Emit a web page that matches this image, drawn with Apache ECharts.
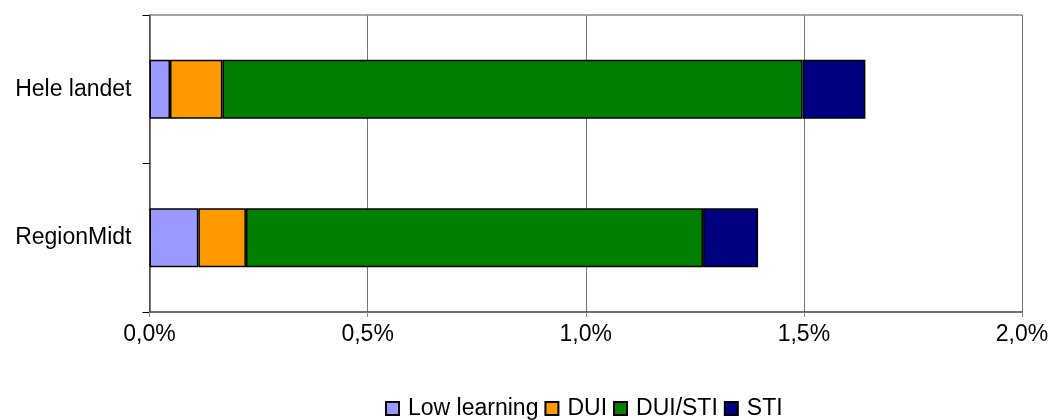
<!DOCTYPE html>
<html>
<head>
<meta charset="utf-8">
<script src="https://cdn.jsdelivr.net/npm/echarts@6/dist/echarts.min.js"></script>
<style>
  html, body { margin: 0; padding: 0; background: #fff; }
  #chart { width: 1052px; height: 420px; }
</style>
</head>
<body>
<div id="chart"></div>
<script>
// data (percent)
const categories = ["Hele landet", "RegionMidt"];
const lowLearning = [0.047, 0.112];
const dui = [0.120, 0.109];
const duiSti = [1.330, 1.048];
const sti = [0.144, 0.126];
const xTicks = [0, 0.5, 1.0, 1.5, 2.0];

const font = "Liberation Sans, Arial, sans-serif";

const mkSeries = (name, data, color) => ({
  name: name,
  type: "bar",
  stack: "total",
  data: data,
  barWidth: 59,
  itemStyle: { color: color, borderColor: "#000", borderWidth: 1.5 },
});

const myChart = echarts.init(document.getElementById("chart"));
myChart.setOption({
  animation: false,
  textStyle: { fontFamily: font },
  grid: { left: 149.5, right: 30, top: 15, bottom: 108 },
  legend: {
    left: 380,
    top: 392,
    itemWidth: 13,
    itemHeight: 13,
    itemGap: 6,
    icon: "rect",
    textStyle: { fontSize: 23, color: "#000", fontFamily: font, padding: [0, 0, 0, 4] },
    data: ["Low learning", "DUI", "DUI/STI", "STI"],
  },
  xAxis: [
    {
      type: "value",
      min: xTicks[0],
      max: xTicks[xTicks.length - 1],
      interval: 0.5,
      axisLine: { show: true, lineStyle: { color: "#444", width: 1.5 } },
      axisTick: { show: true, length: 5, lineStyle: { color: "#888" } },
      axisLabel: {
        fontSize: 23,
        color: "#000",
        margin: 11,
        fontFamily: font,
        formatter: (v) => v.toFixed(1).replace(".", ",") + "%",
      },
      splitLine: { show: true, lineStyle: { color: "#777", width: 1 } },
    },
    {
      type: "value",
      position: "top",
      min: xTicks[0],
      max: xTicks[xTicks.length - 1],
      axisLine: { show: true, lineStyle: { color: "#888", width: 1.5 } },
      axisTick: { show: false },
      axisLabel: { show: false },
      splitLine: { show: false },
    },
  ],
  yAxis: {
    type: "category",
    data: categories,
    inverse: true,
    axisLine: { show: true, onZero: false, lineStyle: { color: "#444", width: 1.5 } },
    axisTick: { show: true, length: 7, lineStyle: { color: "#000" } },
    axisLabel: { fontSize: 23, color: "#000", margin: 18, fontFamily: font },
  },
  series: [
    mkSeries("Low learning", lowLearning, "#9999FF"),
    mkSeries("DUI", dui, "#FF9900"),
    mkSeries("DUI/STI", duiSti, "#007F00"),
    mkSeries("STI", sti, "#000080"),
  ],
});
</script>
</body>
</html>
